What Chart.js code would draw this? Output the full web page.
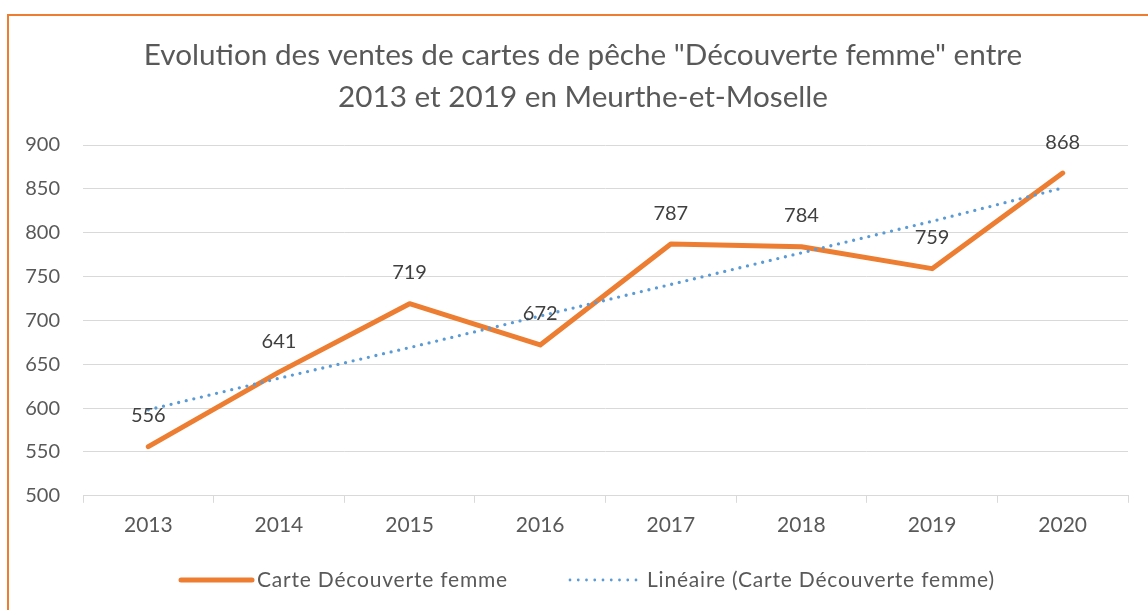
<!DOCTYPE html>
<html>
<head>
<meta charset="utf-8">
<script src="https://cdn.jsdelivr.net/npm/chart.js@4.4.1/dist/chart.umd.min.js"></script>
<style>
html, body { margin: 0; padding: 0; background: #fff; overflow: hidden; }
#zone { position: absolute; left: 0; top: 0; width: 1166px; height: 610px; }
#cadre { position: absolute; left: 7px; top: 14px; width: 1200px; height: 700px; border: 2px solid #ED7D31; pointer-events: none; }
</style>
</head>
<body>
<!-- le graphique original depasse un peu a droite de la capture -->
<div id="zone"><canvas id="grafico" width="1166" height="610"></canvas></div>
<div id="cadre"></div>
<script>
// donnees
const annees = ["2013", "2014", "2015", "2016", "2017", "2018", "2019", "2020"]
const ventes = [556, 641, 719, 672, 787, 784, 759, 868]
const tendance = [598, 634, 669, 705, 741, 777, 813, 851]
const titre = ["Evolution des ventes de cartes de pêche \"Découverte femme\" entre", "2013 et 2019 en Meurthe-et-Moselle"]
const nomSerie = "Carte Découverte femme"
const nomTendance = "Linéaire (Carte Découverte femme)"
const yMin = 500
const yMax = 900
const yPas = 50

const gris = "#595959"
const police = "Lato"

// titre centre sur toute la largeur du graphique
const enTete = {
    id: "enTete",
    afterDraw(chart) {
        let ctx = chart.ctx
        ctx.save()
        ctx.font = "29.7px " + police
        ctx.fillStyle = gris
        ctx.textAlign = "center"
        ctx.textBaseline = "middle"
        titre.forEach((t, i) => ctx.fillText(t, chart.width / 2, 55 + i * 42))
        ctx.restore()
    }
}

// etiquettes de valeur au-dessus des points
const etiquettes = {
    id: "etiquettes",
    afterDatasetsDraw(chart) {
        let ctx = chart.ctx
        let meta = chart.getDatasetMeta(0)
        ctx.save()
        ctx.font = "20px " + police
        ctx.fillStyle = "#404040"
        ctx.textAlign = "center"
        ctx.textBaseline = "middle"
        meta.data.forEach((p, i) => {
            ctx.fillText(ventes[i], p.x, p.y - 31)
        })
        ctx.restore()
    }
}

// legende en bas, placee comme sur l'original
const legende = {
    id: "legende",
    afterDraw(chart) {
        let ctx = chart.ctx
        let ds = chart.data.datasets
        let y = 580
        ctx.save()
        ctx.lineCap = "round"
        ctx.strokeStyle = ds[0].borderColor
        ctx.lineWidth = 5
        ctx.beginPath()
        ctx.moveTo(181, y)
        ctx.lineTo(252, y)
        ctx.stroke()

        ctx.strokeStyle = ds[1].borderColor
        ctx.lineWidth = 2.8
        ctx.setLineDash([0, 8.25])
        ctx.beginPath()
        ctx.moveTo(570, y)
        ctx.lineTo(637, y)
        ctx.stroke()
        ctx.setLineDash([])

        ctx.font = "21px " + police
        ctx.letterSpacing = "0.8px"
        ctx.fillStyle = gris
        ctx.textBaseline = "middle"
        ctx.fillText(ds[0].label, 257, y)
        ctx.fillText(ds[1].label, 647, y)
        ctx.restore()
    }
}

let miGrafico = new Chart(document.getElementById("grafico"), {
    type: "line",
    data: {
        labels: annees,
        datasets: [{
            label: nomSerie,
            data: ventes,
            borderColor: "#ED7D31",
            borderWidth: 5,
            borderCapStyle: "round",
            borderJoinStyle: "round",
            pointRadius: 0,
            tension: 0,
            order: 1
        }, {
            label: nomTendance,
            data: tendance,
            borderColor: "#5B9BD5",
            borderWidth: 3.3,
            borderDash: [0, 7.8],
            borderCapStyle: "round",
            pointRadius: 0,
            tension: 0,
            order: 0
        }]
    },
    options: {
        responsive: false,
        animation: false,
        layout: { padding: { left: 0, right: 38, top: 145, bottom: 62 } },
        plugins: {
            legend: { display: false },
            tooltip: { enabled: false },
            title: { display: false }
        },
        scales: {
            x: {
                offset: true,
                grid: { offset: true, drawOnChartArea: false, drawTicks: true, tickLength: 7, color: "#d9d9d9" },
                border: { display: true, color: "#d9d9d9" },
                ticks: { color: gris, font: { family: police, size: 21 }, padding: 10 }
            },
            y: {
                min: yMin,
                max: yMax,
                ticks: { stepSize: yPas, color: gris, font: { family: police, size: 20 }, padding: 23 },
                grid: { color: "#d9d9d9", drawTicks: false },
                border: { display: false },
                afterFit(s) { s.width = 83 }
            }
        }
    },
    plugins: [enTete, etiquettes, legende]
})
</script>
</body>
</html>
